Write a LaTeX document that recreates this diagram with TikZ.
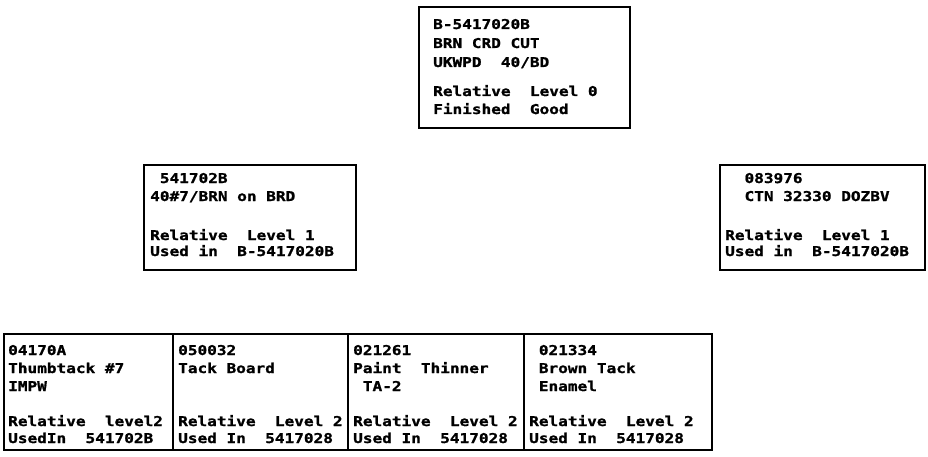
\documentclass[tikz,border=0pt]{standalone}
\usepackage{fontspec}
\newfontfamily\plotfont[FakeStretch=1.19,FakeBold=1.2]{DejaVu Sans Mono}
\begin{document}
\begin{tikzpicture}[x=1pt,y=-1pt,
  box/.style={draw,line width=2.4pt,inner sep=0pt},
  lbl/.style={anchor=base west,inner sep=0pt,font=\plotfont\bfseries\fontsize{13.5}{15}\selectfont}]
\useasboundingbox (0,0) rectangle (928,457);
% top box
\node[box,minimum width=211pt,minimum height=121pt] (top) at (524.5,67.5) {};
\foreach \yy/\pl [count=\i] in {29/{B-5417020B},48/{BRN CRD CUT},67/{UKWPD~~40/BD},96/{Relative~~Level 0},114/{Finished~~Good}}
  \node[lbl] (top-\i) at (433,\yy) {\pl};
% middle left
\node[box,minimum width=212pt,minimum height=105pt] (ml) at (250,217.5) {};
\foreach \yy/\pl [count=\i] in {183/{~541702B},201/{40\#7/BRN on BRD},240/{Relative~~Level 1},256/{Used in~~B-5417020B}}
  \node[lbl] (ml-\i) at (150,\yy) {\pl};
% middle right
\node[box,minimum width=205pt,minimum height=105pt] (mr) at (822.5,217.5) {};
\foreach \yy/\pl [count=\i] in {183/{~~083976},201/{~~CTN 32330 DOZBV},240/{Relative~~Level 1},256/{Used in~~B-5417020B}}
  \node[lbl] (mr-\i) at (725,\yy) {\pl};
% bottom row
\node[box,minimum width=169pt,minimum height=116pt] (b1) at (88.5,392) {};
\node[box,minimum width=175pt,minimum height=116pt] (b2) at (260.5,392) {};
\node[box,minimum width=176pt,minimum height=116pt] (b3) at (436,392) {};
\node[box,minimum width=188pt,minimum height=116pt] (b4) at (618,392) {};
\foreach \yy/\pl [count=\i] in {355/{04170A},373/{Thumbtack \#7},391/{IMPW},426/{Relative~~level2},443/{UsedIn~~541702B}}
  \node[lbl] (b1-\i) at (8,\yy) {\pl};
\foreach \yy/\pl [count=\i] in {355/{050032},373/{Tack Board},426/{Relative~~Level 2},443/{Used In~~5417028}}
  \node[lbl] (b2-\i) at (178,\yy) {\pl};
\foreach \yy/\pl [count=\i] in {355/{021261},373/{Paint~~Thinner},391/{~TA-2},426/{Relative~~Level 2},443/{Used In~~5417028}}
  \node[lbl] (b3-\i) at (353,\yy) {\pl};
\foreach \yy/\pl [count=\i] in {355/{~021334},373/{~Brown Tack},391/{~Enamel},426/{Relative~~Level 2},443/{Used In~~5417028}}
  \node[lbl] (b4-\i) at (529,\yy) {\pl};
\end{tikzpicture}
\end{document}
